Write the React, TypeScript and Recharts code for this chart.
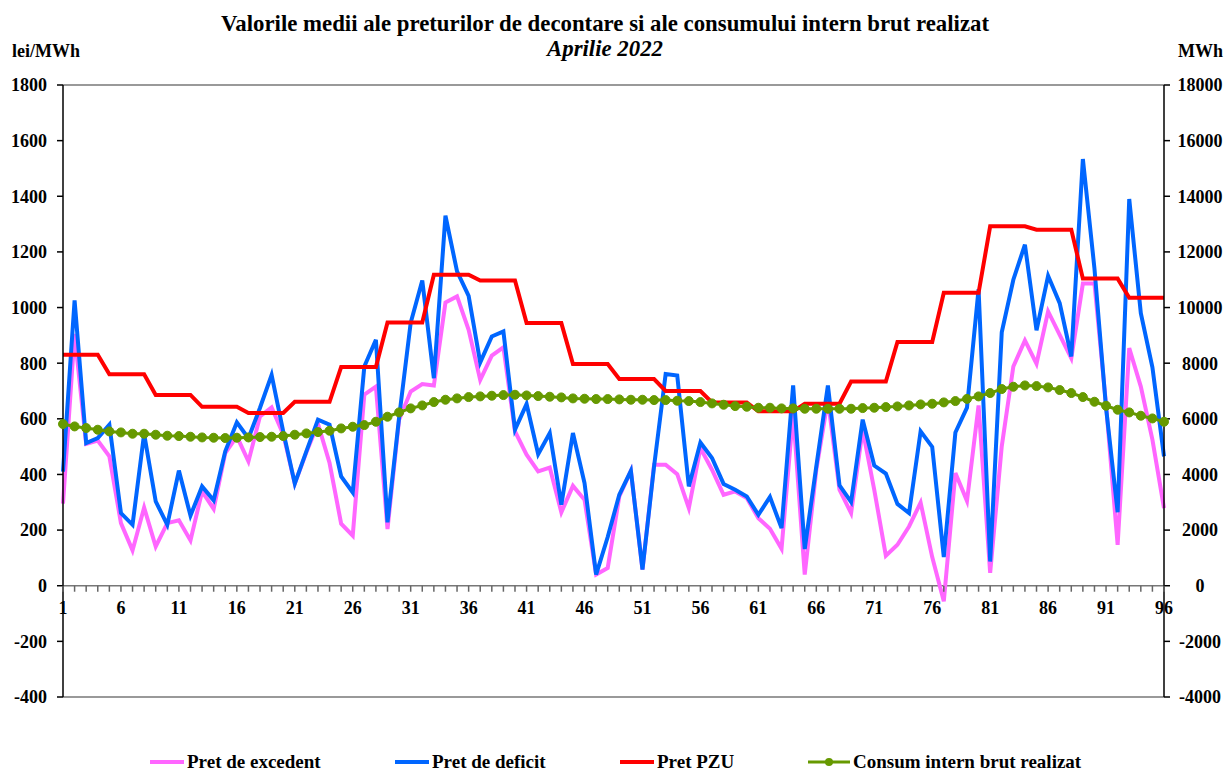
import React from 'react';
import { ComposedChart, Line, XAxis, YAxis, ReferenceLine } from 'recharts';

// intervale de 15 minute
const intervals = Array.from({ length: 96 }, (_, i) => i + 1);
const xLabels = [1, 6, 11, 16, 21, 26, 31, 36, 41, 46, 51, 56, 61, 66, 71, 76, 81, 86, 91, 96];

const pretExcedent = [
  295, 905, 510, 522, 465, 225, 127, 281, 141, 225, 235, 163, 339, 276, 477, 537,
  447, 609, 641, 545, 367, 480, 582, 441, 223, 180, 687, 716, 204, 597, 698, 725,
  720, 1018, 1040, 920, 740, 827, 857, 555, 471, 411, 425, 264, 359, 309, 40, 64,
  321, 413, 58, 435, 435, 401, 279, 495, 417, 327, 339, 315, 243, 205, 133, 620,
  40, 417, 669, 345, 261, 561, 345, 108, 147, 213, 299, 103, -56, 405, 305, 648,
  46, 501, 788, 882, 798, 986, 902, 818, 1086, 1086, 650, 147, 854, 716, 525, 279,
];

const pretDeficit = [
  410, 1026, 513, 531, 579, 261, 219, 546, 303, 219, 414, 252, 357, 307, 483, 587,
  530, 640, 758, 555, 367, 483, 597, 579, 393, 335, 788, 884, 228, 605, 945, 1097,
  746, 1330, 1130, 1042, 803, 896, 914, 561, 653, 473, 549, 291, 549, 369, 40, 175,
  327, 413, 58, 429, 761, 756, 357, 515, 459, 366, 345, 321, 255, 319, 207, 720,
  132, 429, 720, 361, 301, 597, 432, 403, 294, 261, 555, 499, 103, 551, 640, 1066,
  87, 911, 1100, 1226, 918, 1114, 1016, 824, 1534, 1140, 640, 264, 1390, 980, 785, 465,
];

const pretPZU = [
  830, 830, 830, 830, 760, 760, 760, 760, 686, 686, 686, 686, 643, 643, 643, 643,
  621, 621, 621, 621, 661, 661, 661, 661, 786, 786, 786, 786, 946, 946, 946, 946,
  1118, 1118, 1118, 1118, 1097, 1097, 1097, 1097, 944, 944, 944, 944, 797, 797, 797, 797,
  743, 743, 743, 743, 700, 700, 700, 700, 659, 659, 659, 659, 627, 627, 627, 627,
  654, 654, 654, 654, 734, 734, 734, 734, 876, 876, 876, 876, 1053, 1053, 1053, 1053,
  1292, 1292, 1292, 1292, 1280, 1280, 1280, 1280, 1104, 1104, 1104, 1104, 1035, 1035, 1035, 1035,
];

const consum = [
  5812, 5727, 5668, 5608, 5547, 5511, 5464, 5464, 5428, 5392, 5380, 5356, 5331, 5320, 5309, 5320,
  5331, 5345, 5356, 5380, 5428, 5476, 5523, 5572, 5655, 5715, 5775, 5895, 6075, 6230, 6375, 6481,
  6602, 6686, 6734, 6782, 6806, 6830, 6853, 6865, 6841, 6817, 6794, 6770, 6734, 6722, 6710, 6710,
  6698, 6686, 6686, 6674, 6674, 6650, 6638, 6602, 6554, 6506, 6458, 6434, 6398, 6398, 6375, 6375,
  6362, 6362, 6362, 6362, 6362, 6386, 6398, 6422, 6446, 6481, 6518, 6542, 6590, 6638, 6716, 6806,
  6926, 7070, 7153, 7200, 7177, 7129, 7034, 6926, 6782, 6614, 6470, 6326, 6230, 6111, 6014, 5895,
];

const leftTicks = [-400, -200, 0, 200, 400, 600, 800, 1000, 1200, 1400, 1600, 1800];
const rightTicks = [-4000, -2000, 0, 2000, 4000, 6000, 8000, 10000, 12000, 14000, 16000, 18000];

const data = intervals.map((t, i) => ({
  t,
  excedent: pretExcedent[i],
  deficit: pretDeficit[i],
  pzu: pretPZU[i],
  consum: consum[i],
}));

const FONT = '"Liberation Serif", "Times New Roman", serif';
const W = 1228;
const H = 771;
const M = { top: 85, right: 0, bottom: 44, left: 0 };
const PLOT_H = H - M.top - M.bottom - 30;
// linia axei X trece prin 0 pe axa din stanga
const ZERO_Y = M.top + (PLOT_H * 1800) / 2200;

const XTick = ({ x, payload }: any) => (
  <g>
    <line x1={x} y1={ZERO_Y} x2={x} y2={ZERO_Y + 6} stroke="#666" strokeWidth={1.5} />
    {xLabels.includes(payload.value) && (
      <text x={x} y={ZERO_Y + 28} textAnchor="middle" fontFamily={FONT} fontWeight="bold" fontSize={18} fill="#000">
        {payload.value}
      </text>
    )}
  </g>
);

const RightTick = ({ x, y, payload }: any) => (
  <text x={x + 26} y={y} dy="0.355em" textAnchor="middle" fontFamily={FONT} fontWeight="bold" fontSize={18} fill="#000">
    {payload.value}
  </text>
);

const legendItems = [
  { name: 'Pret de excedent', color: '#FF66FF', left: 150 },
  { name: 'Pret de deficit', color: '#0066FF', left: 395 },
  { name: 'Pret PZU', color: '#FF0000', left: 620 },
  { name: 'Consum intern brut realizat', color: '#669900', left: 808, dot: true },
];

export default function App() {
  return (
    <div style={{ position: 'fixed', left: 0, top: 0, width: W, height: H, overflow: 'hidden', fontFamily: FONT, background: '#fff' }}>
      <div style={{ position: 'absolute', left: 0, top: 12, width: 1210, textAlign: 'center', fontSize: 22.8, fontWeight: 'bold', lineHeight: '24px' }}>
        Valorile medii ale preturilor de decontare si ale consumului intern brut realizat
      </div>
      <div style={{ position: 'absolute', left: 0, top: 37, width: 1210, textAlign: 'center', fontSize: 22.8, fontWeight: 'bold', fontStyle: 'italic', lineHeight: '24px' }}>
        Aprilie 2022
      </div>
      <div style={{ position: 'absolute', left: 12, top: 41, fontSize: 18, fontWeight: 'bold', lineHeight: '20px' }}>lei/MWh</div>
      <div style={{ position: 'absolute', left: 1178, top: 41, fontSize: 18, fontWeight: 'bold', lineHeight: '20px' }}>MWh</div>

      <div style={{ position: 'absolute', left: 0, top: 0 }}>
        <ComposedChart width={W} height={H} data={data} margin={M}>
          <XAxis
            dataKey="t"
            type="number"
            domain={[1, 96]}
            ticks={intervals}
            interval={0}
            axisLine={false}
            tickLine={false}
            height={30}
            tick={XTick}
          />
          <YAxis
            yAxisId="left"
            domain={[-400, 1800]}
            ticks={leftTicks}
            interval={0}
            width={63}
            tickSize={6}
            tickMargin={10}
            axisLine={{ stroke: '#000', strokeWidth: 1.5 }}
            tickLine={{ stroke: '#000', strokeWidth: 1.5 }}
            tick={{ fontFamily: FONT, fontWeight: 'bold', fontSize: 18, fill: '#000' }}
          />
          <YAxis
            yAxisId="right"
            orientation="right"
            domain={[-4000, 18000]}
            ticks={rightTicks}
            interval={0}
            width={64}
            tickSize={6}
            tickMargin={4}
            axisLine={{ stroke: '#000', strokeWidth: 1.5 }}
            tickLine={{ stroke: '#000', strokeWidth: 1.5 }}
            tick={RightTick}
          />
          <ReferenceLine yAxisId="left" y={1800} stroke="#777" strokeWidth={1.5} />
          <ReferenceLine yAxisId="left" y={-400} stroke="#777" strokeWidth={1.5} />
          <ReferenceLine yAxisId="left" y={0} stroke="#777" strokeWidth={1.5} />
          <Line yAxisId="left" type="linear" dataKey="excedent" name="Pret de excedent" stroke="#FF66FF" strokeWidth={4} dot={false} isAnimationActive={false} />
          <Line yAxisId="left" type="linear" dataKey="deficit" name="Pret de deficit" stroke="#0066FF" strokeWidth={4} dot={false} isAnimationActive={false} />
          <Line yAxisId="left" type="linear" dataKey="pzu" name="Pret PZU" stroke="#FF0000" strokeWidth={4} dot={false} isAnimationActive={false} />
          <Line
            yAxisId="right"
            type="linear"
            dataKey="consum"
            name="Consum intern brut realizat"
            stroke="#669900"
            strokeWidth={3}
            dot={{ r: 4.5, fill: '#669900', stroke: '#669900', strokeWidth: 1 }}
            isAnimationActive={false}
          />
        </ComposedChart>
      </div>

      {legendItems.map(item => (
        <div key={item.name} style={{ position: 'absolute', left: item.left, top: 752, display: 'flex', alignItems: 'center', fontSize: 19, fontWeight: 'bold', lineHeight: '20px' }}>
          <svg width={item.dot ? 42 : 34} height={12} style={{ marginRight: 3 }}>
            <line x1={0} y1={6} x2={item.dot ? 42 : 34} y2={6} stroke={item.color} strokeWidth={item.dot ? 3 : 4} />
            {item.dot && <circle cx={21} cy={6} r={4} fill={item.color} />}
          </svg>
          <span>{item.name}</span>
        </div>
      ))}
    </div>
  );
}
